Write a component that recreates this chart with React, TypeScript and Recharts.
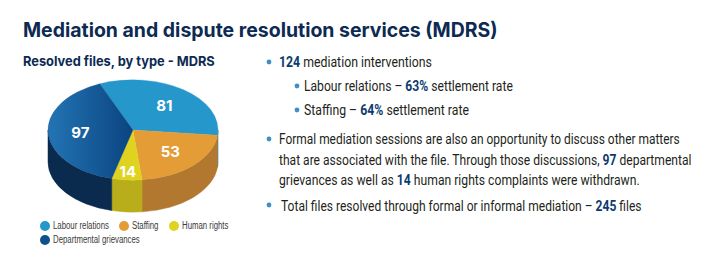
import React, { useLayoutEffect, useRef, useState } from 'react';
import { PieChart, Pie, Cell, Legend } from 'recharts';

const categories = ['Labour relations', 'Staffing', 'Human rights', 'Departmental grievances'];
const resolvedFiles = [81, 53, 14, 97];
const topColors = ['#2597cb', '#e39c36', '#dfd31f', 'url(#dgTop)'];
const legendColors = ['#2597cb', '#e39c36', '#dfd31f', '#0f4f8c'];
const sideColors = ['#1c6e99', '#b27830', '#b8ae1b', '#0b2b4e'];

const data = categories.map((name, i) => ({ name, value: resolvedFiles[i] }));

const TITLE = 'Mediation and dispute resolution services (MDRS)';
const SUBTITLE = 'Resolved files, by type - MDRS';

const RY = 0.59;
const DEPTH = 32;
const NAVY = '#0c2a52';
const BOLD = '#0d3b6f';
const BODY = '#231f20';
const BULLET = '#3d8fc6';
const BODY_FONT = "Roboto, 'Liberation Sans', sans-serif";
const LEGEND_FONT = "'Liberation Sans', Roboto, sans-serif";

function pt(cx: number, cy: number, rx: number, ry: number, deg: number) {
  const r = (deg * Math.PI) / 180;
  return [cx + rx * Math.cos(r), cy - ry * Math.sin(r)];
}

function Slice3D(props: any) {
  const { cx, cy, outerRadius, startAngle, endAngle, payload, name } = props;
  const nm = name ?? payload?.name;
  const idx = categories.indexOf(nm);
  const rx = outerRadius;
  const ry = outerRadius * RY;
  const hi = Math.max(startAngle, endAngle);
  const lo = Math.min(startAngle, endAngle);
  const [x1, y1] = pt(cx, cy, rx, ry, hi);
  const [x2, y2] = pt(cx, cy, rx, ry, lo);
  const large = hi - lo > 180 ? 1 : 0;
  const top = `M${cx},${cy} L${x1},${y1} A${rx},${ry} 0 ${large} 1 ${x2},${y2} Z`;
  const sides: string[] = [];
  for (let k = -2; k <= 2; k++) {
    const a = Math.max(lo, -180 + 360 * k);
    const b = Math.min(hi, 360 * k);
    if (b > a) {
      const [bx, by] = pt(cx, cy, rx, ry, b);
      const [ax, ay] = pt(cx, cy, rx, ry, a);
      sides.push(
        `M${bx},${by} A${rx},${ry} 0 0 1 ${ax},${ay} L${ax},${ay + DEPTH} A${rx},${ry} 0 0 0 ${bx},${by + DEPTH} Z`
      );
    }
  }
  return (
    <g>
      {idx === 3 && (
        <defs>
          <linearGradient id="dgTop" x1="0" y1="0" x2="1" y2="0">
            <stop offset="0" stopColor="#2374b4" />
            <stop offset="1" stopColor="#0a4480" />
          </linearGradient>
        </defs>
      )}
      {sides.map((d, i) => (
        <path key={i} d={d} fill={sideColors[idx]} stroke={sideColors[idx]} strokeWidth={0.5} />
      ))}
      <path d={top} fill={topColors[idx]} stroke={idx === 3 ? '#0f4f8c' : topColors[idx]} strokeWidth={0.3} />
    </g>
  );
}

function renderLabel(props: any) {
  const { cx, cy, midAngle, outerRadius, percent, value } = props;
  const f = percent < 0.1 ? 0.82 : 0.62;
  const [x, y] = pt(cx, cy, outerRadius * f, outerRadius * RY * f, midAngle);
  return (
    <text x={x} y={y} fill="#ffffff" textAnchor="middle" dominantBaseline="central"
      fontFamily="Inter, 'Open Sans', sans-serif" fontWeight={700} fontSize={15}>
      {value}
    </text>
  );
}

// SVG text line scaled horizontally to a target width (condensed look)
function FitLine({ x, y, width, children, ...rest }: any) {
  const ref = useRef<SVGTextElement>(null);
  const [k, setK] = useState(1);
  useLayoutEffect(() => {
    if (ref.current) {
      const w = ref.current.getComputedTextLength();
      if (w > 0) setK(width / w);
    }
  }, [width]);
  return (
    <text ref={ref} x={0} y={0} transform={`translate(${x} ${y}) scale(${k} 1)`} {...rest}>
      {children}
    </text>
  );
}

// HTML span condensed horizontally with correct layout width
function NarrowSpan({ k, children, style }: any) {
  const ref = useRef<HTMLSpanElement>(null);
  const [w, setW] = useState<number | null>(null);
  useLayoutEffect(() => {
    if (ref.current) setW(ref.current.offsetWidth);
  }, []);
  return (
    <span style={{ display: 'inline-block', width: w == null ? 'auto' : w * k, overflow: 'visible', whiteSpace: 'nowrap', ...style }}>
      <span ref={ref} style={{ display: 'inline-block', transform: `scaleX(${w == null ? 1 : k})`, transformOrigin: '0 50%' }}>
        {children}
      </span>
    </span>
  );
}

function LegendContent({ payload }: any) {
  const items = [...(payload || [])].sort(
    (a: any, b: any) => categories.indexOf(a.value) - categories.indexOf(b.value)
  );
  return (
    <div style={{ display: 'flex', flexWrap: 'wrap', width: 215 }}>
      {items.map((entry: any) => (
        <div key={entry.value} style={{ display: 'flex', alignItems: 'center', height: 14, marginRight: 10 }}>
          <span style={{ width: 10, height: 10, borderRadius: 5, background: entry.color, marginRight: 3, flex: 'none' }} />
          <NarrowSpan k={0.78} style={{ color: '#3a3a3a', fontSize: 10, fontFamily: LEGEND_FONT, lineHeight: '14px' }}>
            {entry.value}
          </NarrowSpan>
        </div>
      ))}
    </div>
  );
}

export default function App() {
  return (
    <div style={{ position: 'absolute', left: 0, top: 0, width: 719, height: 274, background: '#fff' }}>
      <PieChart width={719} height={274} margin={{ top: 0, right: 0, bottom: 0, left: 0 }}>
        <Pie
          data={data}
          dataKey="value"
          nameKey="name"
          cx={133}
          cy={130}
          outerRadius={85}
          startAngle={113}
          endAngle={-247}
          isAnimationActive={false}
          shape={Slice3D}
          label={renderLabel}
          labelLine={false}
          stroke="none"
        >
          {data.map((d, i) => (
            <Cell key={d.name} fill={legendColors[i]} />
          ))}
        </Pie>
        <Legend
          verticalAlign="bottom"
          align="left"
          content={LegendContent}
          wrapperStyle={{ left: 40, top: 219, bottom: 'auto', width: 215 }}
        />
      </PieChart>
      <svg width={719} height={274} style={{ position: 'absolute', left: 0, top: 0, pointerEvents: 'none' }}>
        <FitLine x={23} y={37} width={475} fill={NAVY} fontFamily="Inter, 'Open Sans', sans-serif" fontWeight={700} fontSize={20}>
          {TITLE}
        </FitLine>
        <FitLine x={23} y={66} width={192} fill={NAVY} fontFamily="Inter, 'Open Sans', sans-serif" fontWeight={700} fontSize={13.5}>
          {SUBTITLE}
        </FitLine>
        <g fontFamily={BODY_FONT} fontSize={15.5} fill={BODY}>
          <circle cx={269} cy={62} r={2.4} fill={BULLET} />
          <FitLine x={279} y={67} width={153}>
            <tspan fontWeight={700} fill={BOLD}>124</tspan> mediation interventions
          </FitLine>
          <circle cx={297} cy={86} r={2.4} fill={BULLET} />
          <FitLine x={304} y={91} width={209}>
            Labour relations – <tspan fontWeight={700} fill={BOLD}>63%</tspan> settlement rate
          </FitLine>
          <circle cx={297} cy={110} r={2.4} fill={BULLET} />
          <FitLine x={304} y={115} width={165}>
            Staffing – <tspan fontWeight={700} fill={BOLD}>64%</tspan> settlement rate
          </FitLine>
          <circle cx={269} cy={139} r={2.4} fill={BULLET} />
          <FitLine x={279} y={144} width={401}>
            Formal mediation sessions are also an opportunity to discuss other matters
          </FitLine>
          <FitLine x={279} y={165} width={413}>
            that are associated with the file. Through those discussions, <tspan fontWeight={700} fill={BOLD}>97</tspan> departmental
          </FitLine>
          <FitLine x={279} y={185} width={361}>
            grievances as well as <tspan fontWeight={700} fill={BOLD}>14</tspan> human rights complaints were withdrawn.
          </FitLine>
          <circle cx={269} cy={205} r={2.4} fill={BULLET} />
          <FitLine x={281} y={211} width={361}>
            Total files resolved through formal or informal mediation – <tspan fontWeight={700} fill={BOLD}>245</tspan> files
          </FitLine>
        </g>
      </svg>
    </div>
  );
}
